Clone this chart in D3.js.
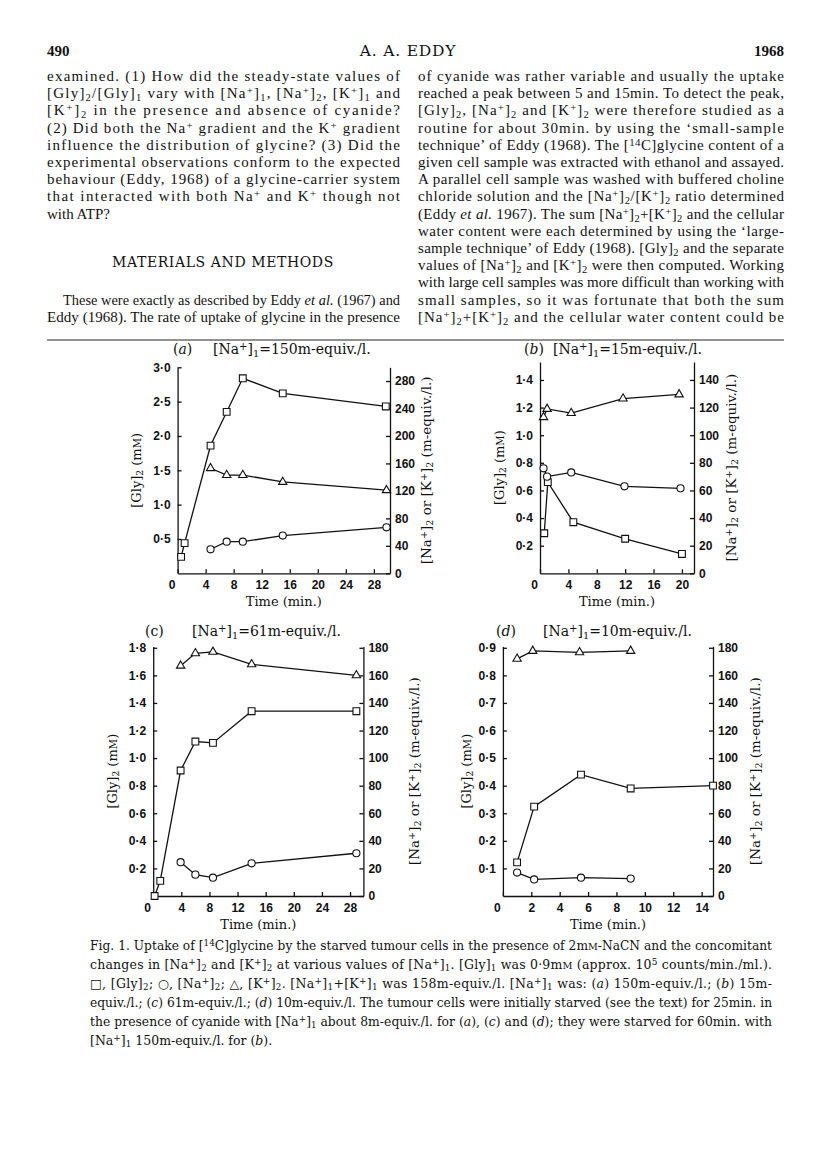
<!DOCTYPE html>
<html><head><meta charset="utf-8">
<script src="https://cdn.jsdelivr.net/npm/d3@7"></script>
<style>
body{margin:0;background:#fff}
svg{display:block}
</style></head><body>
<script>
// ---- data ----
// (a) [Na+]1 = 150
const aGlyTime = [0.5, 1.0, 4.7, 7.0, 9.3, 15.0, 29.7];
const aGly = [0.24, 0.44, 1.86, 2.35, 2.84, 2.62, 2.43];
const aIonTime = [4.7, 7.0, 9.3, 15.0, 29.8];
const aNa = [35, 46, 46, 55, 67];
const aK = [153, 143, 143, 133, 121];
const aXTicks = [0, 4, 8, 12, 16, 20, 24, 28];
const aLeftTicks = [0.5, 1.0, 1.5, 2.0, 2.5, 3.0];
const aRightTicks = [0, 40, 80, 120, 160, 200, 240, 280];

// (b) [Na+]1 = 15
const bGlyTime = [0.6, 1.1, 4.7, 12.0, 20.0];
const bGly = [0.29, 0.66, 0.37, 0.25, 0.14];
const bNaTime = [0.5, 1.0, 4.4, 11.9, 19.8];
const bNa = [76, 70, 73, 63, 61.5];
const bKTime = [0.5, 1.0, 4.4, 11.7, 19.6];
const bK = [113, 119, 116, 126.5, 129.5];
const bXTicks = [0, 4, 8, 12, 16, 20];
const bLeftTicks = [0.2, 0.4, 0.6, 0.8, 1.0, 1.2, 1.4];
const bRightTicks = [0, 20, 40, 60, 80, 100, 120, 140];

// (c) [Na+]1 = 61
const cGlyTime = [0.2, 1.0, 3.9, 6.0, 8.5, 14.0, 28.9];
const cGly = [0.0, 0.11, 0.91, 1.12, 1.11, 1.34, 1.34];
const cIonTime = [3.9, 6.0, 8.5, 14.0, 28.9];
const cNa = [24.5, 15.5, 13.3, 23.7, 31];
const cK = [167, 176, 177, 168, 160];
const cXTicks = [0, 4, 8, 12, 16, 20, 24, 28];
const cLeftTicks = [0.2, 0.4, 0.6, 0.8, 1.0, 1.2, 1.4, 1.6, 1.8];
const cRightTicks = [0, 20, 40, 60, 80, 100, 120, 140, 160, 180];

// (d) [Na+]1 = 10
const dGlyTime = [1.0, 2.2, 5.5, 9.0, 14.8];
const dGly = [0.122, 0.324, 0.44, 0.39, 0.40];
const dNaTime = [1.0, 2.2, 5.5, 9.0];
const dNa = [17, 12, 13.3, 12.6];
const dKTime = [1.0, 2.1, 5.4, 9.0];
const dK = [172, 177.7, 176.7, 177.7];
const dXTicks = [0, 2, 4, 6, 8, 10, 12, 14];
const dLeftTicks = [0.1, 0.2, 0.3, 0.4, 0.5, 0.6, 0.7, 0.8, 0.9];
const dRightTicks = [0, 20, 40, 60, 80, 100, 120, 140, 160, 180];

// ---- page text ----
const col1 = [
  "examined. (1) How did the steady-state values of",
  "[Gly]_{2}/[Gly]_{1} vary with [Na^{+}]_{1}, [Na^{+}]_{2}, [K^{+}]_{1} and",
  "[K^{+}]_{2} in the presence and absence of cyanide?",
  "(2) Did both the Na^{+} gradient and the K^{+} gradient",
  "influence the distribution of glycine? (3) Did the",
  "experimental observations conform to the expected",
  "behaviour (Eddy, 1968) of a glycine-carrier system",
  "that interacted with both Na^{+} and K^{+} though not",
  "with ATP?"
];
const col1b = [
  "These were exactly as described by Eddy *et al.* (1967) and",
  "Eddy (1968). The rate of uptake of glycine in the presence"
];
const col2 = [
  "of cyanide was rather variable and usually the uptake",
  "reached a peak between 5 and 15min. To detect the peak,",
  "[Gly]_{2}, [Na^{+}]_{2} and [K^{+}]_{2} were therefore studied as a",
  "routine for about 30min. by using the ‘small-sample",
  "technique’ of Eddy (1968). The [^{14}C]glycine content of a",
  "given cell sample was extracted with ethanol and assayed.",
  "A parallel cell sample was washed with buffered choline",
  "chloride solution and the [Na^{+}]_{2}/[K^{+}]_{2} ratio determined",
  "(Eddy *et al.* 1967). The sum [Na^{+}]_{2}+[K^{+}]_{2} and the cellular",
  "water content were each determined by using the ‘large-",
  "sample technique’ of Eddy (1968). [Gly]_{2} and the separate",
  "values of [Na^{+}]_{2} and [K^{+}]_{2} were then computed. Working",
  "with large cell samples was more difficult than working with",
  "small samples, so it was fortunate that both the sum",
  "[Na^{+}]_{2}+[K^{+}]_{2} and the cellular water content could be"
];
const caption = [
  "Fig. 1. Uptake of [^{14}C]glycine by the starved tumour cells in the presence of 2m#{M}-NaCN and the concomitant",
  "changes in [Na^{+}]_{2} and [K^{+}]_{2} at various values of [Na^{+}]_{1}. [Gly]_{1} was 0·9m#{M} (approx. 10^{5} counts/min./ml.).",
  "□, [Gly]_{2}; ○, [Na^{+}]_{2}; △, [K^{+}]_{2}. [Na^{+}]_{1}+[K^{+}]_{1} was 158m-equiv./l. [Na^{+}]_{1} was: (*a*) 150m-equiv./l.; (*b*) 15m-",
  "equiv./l.; (*c*) 61m-equiv./l.; (*d*) 10m-equiv./l. The tumour cells were initially starved (see the text) for 25min. in",
  "the presence of cyanide with [Na^{+}]_{1} about 8m-equiv./l. for (*a*), (*c*) and (*d*); they were starved for 60min. with",
  "[Na^{+}]_{1} 150m-equiv./l. for (*b*)."
];

const SERIF = "'DejaVu Serif', 'Liberation Serif', serif";
const BODY = "'Liberation Serif', 'DejaVu Serif', serif";
const NUM = "'Liberation Sans', Arial, sans-serif";

const svg = d3.select('body').append('svg')
  .attr('width', 816).attr('height', 1155)
  .style('font-family', SERIF).attr('fill', '#111');

// tiny markup: _{sub} ^{sup} *italic* #{small caps}
function rich(text, str, fs) {
  text.selectAll('tspan').remove();
  text.attr('font-size', fs);
  const re = /(_\{[^}]*\}|\^\{[^}]*\}|\*[^*]+\*|#\{[^}]*\})/g;
  str.split(re).forEach(part => {
    if (!part) return;
    const t = text.append('tspan');
    if (part.startsWith('_{')) {
      t.text(part.slice(2, -1)).attr('font-size', fs * 0.7).attr('baseline-shift', -fs * 0.18);
    } else if (part.startsWith('^{')) {
      t.text(part.slice(2, -1)).attr('font-size', fs * 0.72).attr('baseline-shift', fs * 0.3);
    } else if (part.startsWith('#{')) {
      t.text(part.slice(2, -1)).attr('font-size', fs * 0.78);
    } else if (part[0] === '*') {
      t.text(part.slice(1, -1)).attr('font-style', 'italic');
    } else {
      t.text(part);
    }
  });
  return text;
}

// justified lines; a line too long for the measure is shrunk to fit
function block(lines, x, y0, lh, width, fs, lastFree, family) {
  lines.forEach((s, i) => {
    const t = svg.append('text').attr('x', x).attr('y', y0 + i * lh)
      .style('font-family', family || SERIF);
    rich(t, s, fs);
    const w = t.node().getComputedTextLength();
    if (w > width) rich(t, s, fs * width / w * 0.995);
    if (!(lastFree && i === lines.length - 1)) {
      t.attr('textLength', width).attr('lengthAdjust', 'spacing');
    }
  });
}

// header
svg.append('text').attr('x', 47).attr('y', 56).attr('font-size', 15).attr('font-weight', 'bold')
  .style('font-family', BODY).text('490');
svg.append('text').attr('x', 408).attr('y', 56).attr('font-size', 15.5).attr('letter-spacing', 0.8)
  .attr('text-anchor', 'middle').text('A. A. EDDY');
svg.append('text').attr('x', 784).attr('y', 56).attr('font-size', 15).attr('font-weight', 'bold')
  .style('font-family', BODY).attr('text-anchor', 'end').text('1968');

const LH = 17.2, Y0 = 81, FS = 15;
block(col1, 47, Y0, LH, 353, FS, true, BODY);
svg.append('text').attr('x', 223).attr('y', Y0 + 10.8 * LH).attr('font-size', 14)
  .attr('text-anchor', 'middle').attr('letter-spacing', 0.6).text('MATERIALS AND METHODS');
block([col1b[0]], 63, Y0 + 13 * LH, LH, 337, FS, false, BODY);
block([col1b[1]], 47, Y0 + 14 * LH, LH, 353, FS, false, BODY);
block(col2, 418, Y0, LH, 366, FS, false, BODY);

svg.append('line').attr('x1', 47).attr('x2', 784).attr('y1', 340).attr('y2', 340)
  .attr('stroke', '#222').attr('stroke-width', 1);

block(caption, 90, 950, 19, 682, 12.5, true, SERIF);

// ---- panels ----
const panels = [
  { tag: '(*a*)', na: '150', left: 177.6, right: 390, bottom: 573.3, top: 367.3, xMax: 30.3, rMax: 300, ratio: 100,
    xt: aXTicks, lt: aLeftTicks, rt: aRightTicks,
    gly: [aGlyTime, aGly], na2: [aIonTime, aNa], k2: [aIonTime, aK],
    tagX: 173, naX: 213, titleY: 354, lLabX: 136, rLabX: 426 },
  { tag: '(*b*)', na: '15', left: 540, right: 694, bottom: 573.3, top: 362, xMax: 21.7, rMax: 153, ratio: 100,
    xt: bXTicks, lt: bLeftTicks, rt: bRightTicks,
    gly: [bGlyTime, bGly], na2: [bNaTime, bNa], k2: [bKTime, bK],
    tagX: 524, naX: 553, titleY: 354, lLabX: 499, rLabX: 731 },
  { tag: '(c)', na: '61', left: 153.2, right: 363.4, bottom: 896, top: 646.4, xMax: 29.9, rMax: 181, ratio: 100,
    xt: cXTicks, lt: cLeftTicks, rt: cRightTicks,
    gly: [cGlyTime, cGly], na2: [cIonTime, cNa], k2: [cIonTime, cK],
    tagX: 145, naX: 192, titleY: 636, lLabX: 112, rLabX: 414 },
  { tag: '(*d*)', na: '10', left: 502.9, right: 713, bottom: 896, top: 646.4, xMax: 14.8, rMax: 181, ratio: 200,
    xt: dXTicks, lt: dLeftTicks, rt: dRightTicks,
    gly: [dGlyTime, dGly], na2: [dNaTime, dNa], k2: [dKTime, dK],
    tagX: 496, naX: 543, titleY: 636, lLabX: 466, rLabX: 755 }
];

const fmt1 = v => d3.format('.1f')(v).replace('.', '·');

function styleAxis(g) {
  g.attr('font-family', NUM).attr('font-size', 12).attr('font-weight', 'bold');
  g.selectAll('path, line').attr('stroke', '#111').attr('stroke-width', 1.3);
  g.selectAll('text').attr('fill', '#111');
}

panels.forEach(p => {
  const g = svg.append('g');
  const x = d3.scaleLinear().domain([0, p.xMax]).range([p.left, p.right]);
  const yR = d3.scaleLinear().domain([0, p.rMax]).range([p.bottom, p.top]);
  const yL = d3.scaleLinear().domain([0, p.rMax / p.ratio]).range([p.bottom, p.top]);

  const gx = g.append('g').attr('transform', `translate(0,${p.bottom})`)
    .call(d3.axisBottom(x).tickValues(p.xt).tickFormat(d3.format('d'))
      .tickSizeInner(-4).tickSizeOuter(0).tickPadding(7));
  styleAxis(gx);
  gx.selectAll('.tick').filter(d => d === 0).select('text').attr('dx', -6);

  const gl = g.append('g').attr('transform', `translate(${p.left},0)`)
    .call(d3.axisLeft(yL).tickValues(p.lt).tickFormat(fmt1)
      .tickSizeInner(-4).tickSizeOuter(0).tickPadding(7));
  styleAxis(gl);

  const gr = g.append('g').attr('transform', `translate(${p.right},0)`)
    .call(d3.axisRight(yR).tickValues(p.rt).tickFormat(d3.format('d'))
      .tickSizeInner(-4).tickSizeOuter(0).tickPadding(5));
  styleAxis(gr);

  // titles and labels
  rich(g.append('text').attr('x', p.tagX).attr('y', p.titleY), p.tag, 14);
  rich(g.append('text').attr('x', p.naX).attr('y', p.titleY),
    '[Na^{+}]_{1}=' + p.na + 'm-equiv./l.', 14);

  const midY = (p.top + p.bottom) / 2;
  rich(g.append('text').attr('transform', `translate(${p.lLabX},${midY}) rotate(-90)`)
    .attr('text-anchor', 'middle').attr('dy', '0.35em'),
    '[Gly]_{2} (m#{M})', 13);
  rich(g.append('text').attr('transform', `translate(${p.rLabX},${midY}) rotate(-90)`)
    .attr('text-anchor', 'middle').attr('dy', '0.35em'),
    '[Na^{+}]_{2} or [K^{+}]_{2} (m-equiv./l.)', 13.5);
  g.append('text').attr('x', (p.left + p.right) / 2).attr('y', p.bottom + 33)
    .attr('text-anchor', 'middle').attr('font-size', 13).text('Time (min.)');

  const series = [
    { d: p.gly, y: yL, sym: d3.symbolSquare, size: 46 },
    { d: p.na2, y: yR, sym: d3.symbolCircle, size: 40 },
    { d: p.k2, y: yR, sym: d3.symbolTriangle, size: 30 }
  ];
  series.forEach(s => {
    const pts = d3.zip(s.d[0], s.d[1]);
    g.append('path').datum(pts)
      .attr('fill', 'none').attr('stroke', '#111').attr('stroke-width', 1.3)
      .attr('d', d3.line().x(d => x(d[0])).y(d => s.y(d[1])));
    g.selectAll(null).data(pts).enter().append('path')
      .attr('transform', d => `translate(${x(d[0])},${s.y(d[1])})`)
      .attr('d', d3.symbol().type(s.sym).size(s.size))
      .attr('fill', '#fff').attr('stroke', '#111').attr('stroke-width', 1.1);
  });
});
</script>
</body></html>
